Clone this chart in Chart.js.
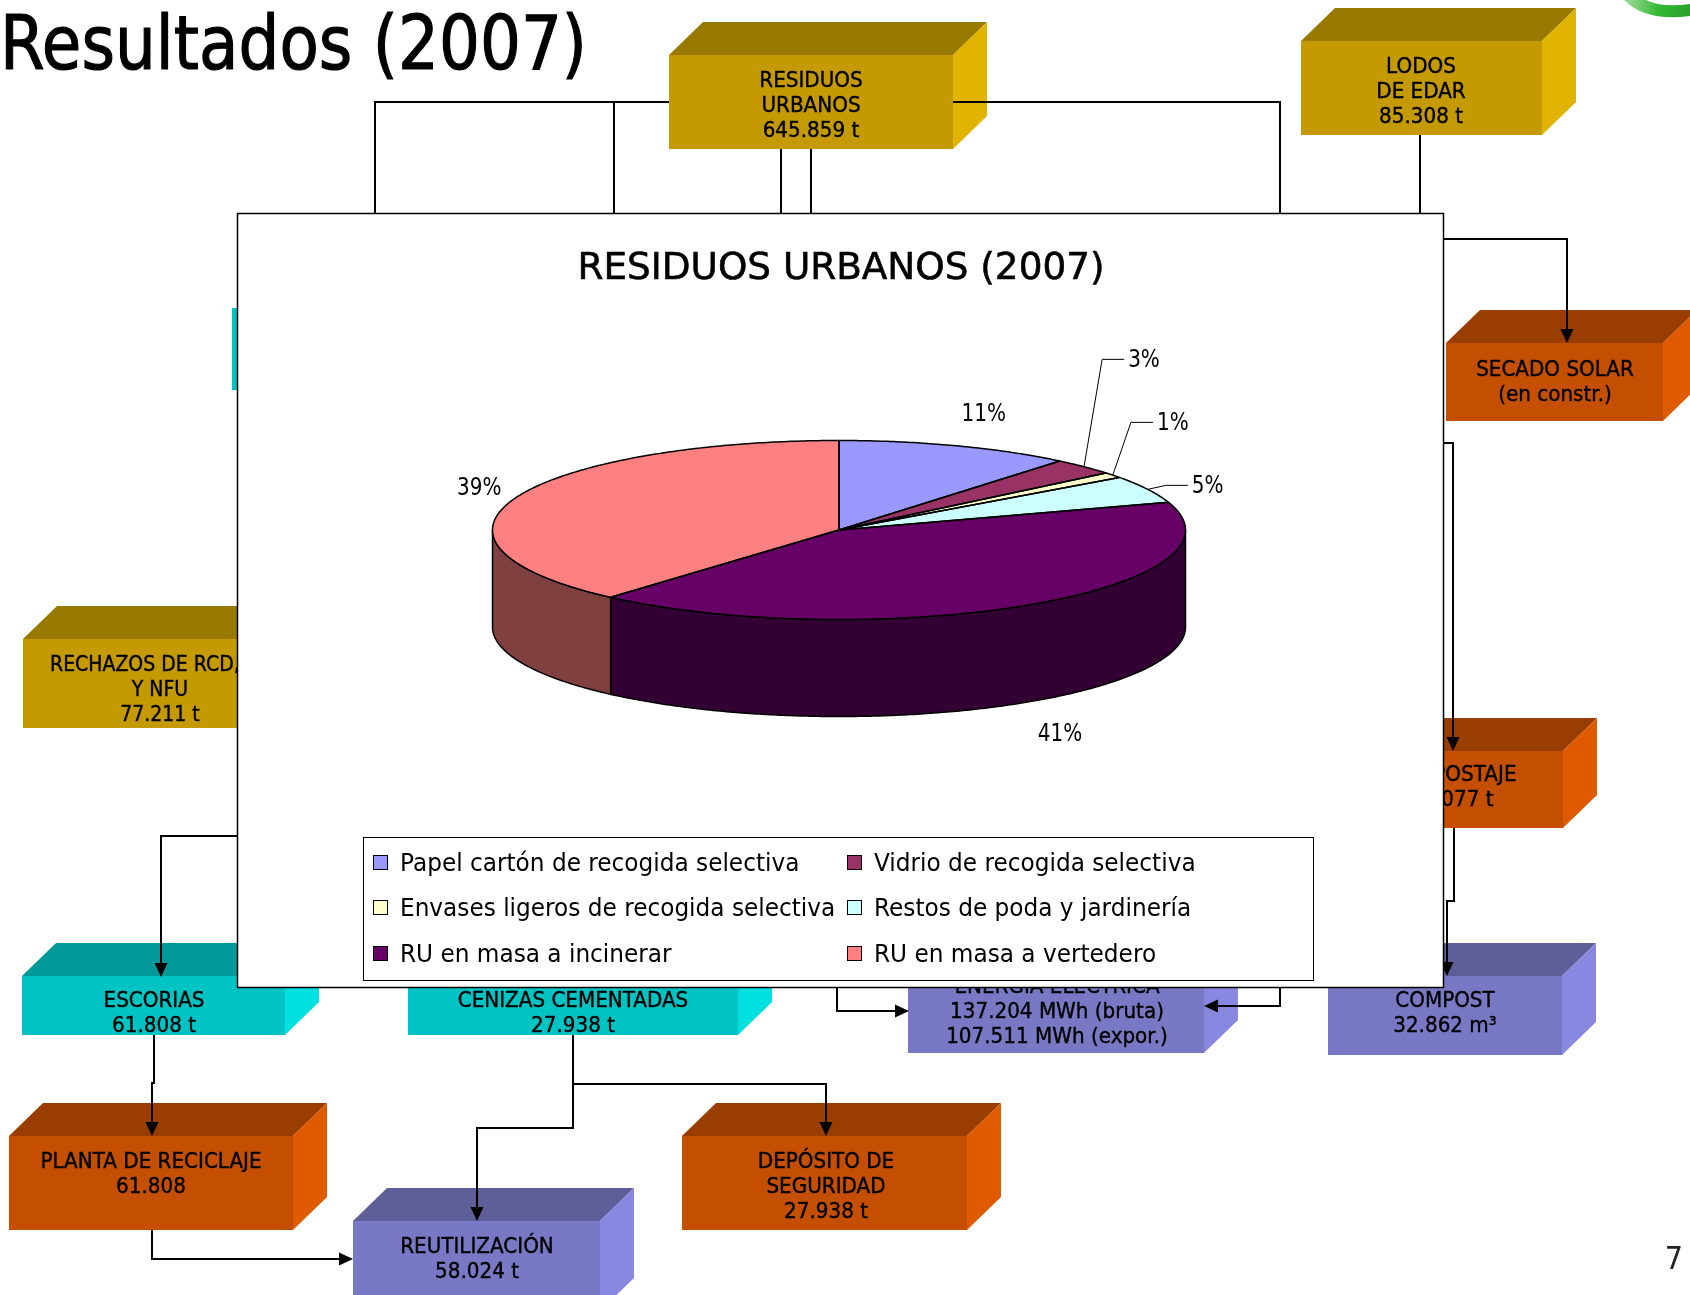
<!DOCTYPE html>
<html>
<head>
<meta charset="utf-8">
<title>Resultados (2007)</title>
<script src="https://cdn.jsdelivr.net/npm/chart.js@4.4.0/dist/chart.umd.min.js"></script>
<style>
    html, body { margin: 0; padding: 0; background: #fff; }
    #wrap { position: relative; width: 1690px; height: 1295px; overflow: hidden; }
</style>
</head>
<body>
<div id="wrap"><canvas id="slide" width="1690" height="1295"></canvas></div>
<script>
// --- chart data -------------------------------------------------------
const pageTitle = 'Resultados (2007)';
const chartTitle = 'RESIDUOS URBANOS (2007)';
const categories = [
    'Papel cartón de recogida selectiva',
    'Vidrio de recogida selectiva',
    'Envases ligeros de recogida selectiva',
    'Restos de poda y jardinería',
    'RU en masa a incinerar',
    'RU en masa a vertedero'
];
// shares in %, estimated from the slice edges (labels show them rounded)
const shares = [11.0, 3.0, 1.0, 5.0, 41.45, 38.55];
const sliceColors = ['#9999FF', '#993366', '#FFFFCC', '#CCFFFF', '#660066', '#FF8080'];
const sideColors = ['#4C4C80', '#4C1933', '#808066', '#668080', '#330033', '#804040'];

// --- look ---------------------------------------------------------------
const FONT = '"DejaVu Sans", Verdana, sans-serif';
const TILT = 89.5 / 346.5;  // ellipse ry / rx
const DEPTH = 97;           // pie thickness

const BOX_COLORS = {
    gold:     { front: '#C49A00', top: '#997A00', side: '#E0B400' },
    orange:   { front: '#C44F00', top: '#993D00', side: '#E05A00' },
    teal:     { front: '#00C4C4', top: '#009999', side: '#00E0E0' },
    lavender: { front: '#7878C4', top: '#5E5E99', side: '#8888E0' }
};

// flow diagram behind the chart (decoration only)
const boxes = [
    { color: 'gold', x: 669, y: 55, w: 284, h: 94, cx: 811, ty: 80, lines: ['RESIDUOS', 'URBANOS', '645.859 t'] },
    { color: 'gold', x: 1301, y: 41, w: 241, h: 94, cx: 1421, ty: 66, lines: ['LODOS', 'DE EDAR', '85.308 t'] },
    { color: 'orange', x: 1446, y: 343, w: 217, h: 78, cx: 1555, ty: 369, lines: ['SECADO SOLAR', '(en constr.)'] },
    { color: 'orange', x: 1328, y: 751, w: 235, h: 77, cx: 1451.5, ty: 774, lines: ['COMPOSTAJE', '71.077 t'] },
    { color: 'lavender', x: 1328, y: 976, w: 234, h: 79, cx: 1445, ty: 1000, lines: ['COMPOST', '32.862 m³'] },
    { color: 'lavender', x: 908, y: 969, w: 296, h: 84, cx: 1057, ty: 986, lines: ['ENERGÍA ELÉCTRICA', '137.204 MWh (bruta)', '107.511 MWh (expor.)'] },
    { color: 'teal', x: 408, y: 976, w: 330, h: 59, cx: 573, ty: 1000, lines: ['CENIZAS CEMENTADAS', '27.938 t'] },
    { color: 'teal', x: 22, y: 976, w: 263, h: 59, cx: 154, ty: 1000, lines: ['ESCORIAS', '61.808 t'] },
    { color: 'gold', x: 23, y: 639, w: 276, h: 89, cx: 160, ty: 664, sx: 0.9, lines: ['RECHAZOS DE RCD, VFU', 'Y NFU', '77.211 t'], firstLeft: 50 },
    { color: 'teal', x: 232, y: 308, w: 260, h: 82, flat: true, lines: [] },
    { color: 'orange', x: 9, y: 1136, w: 284, h: 94, cx: 151, ty: 1161, lines: ['PLANTA DE RECICLAJE', '61.808'] },
    { color: 'orange', x: 682, y: 1136, w: 285, h: 94, cx: 826, ty: 1161, lines: ['DEPÓSITO DE', 'SEGURIDAD', '27.938 t'] },
    { color: 'lavender', x: 353, y: 1221, w: 247, h: 90, cx: 477, ty: 1246, lines: ['REUTILIZACIÓN', '58.024 t'] }
];

const links = [
    { pts: [[375, 213], [375, 102], [669, 102]] },
    { pts: [[614, 102], [614, 213]] },
    { pts: [[781, 149], [781, 213]] },
    { pts: [[811, 149], [811, 213]] },
    { pts: [[953, 102], [1280, 102], [1280, 213]] },
    { pts: [[1420, 135], [1420, 213]] },
    { pts: [[1443, 239], [1567, 239], [1567, 343]], arrow: true },
    { pts: [[1443, 443], [1453, 443], [1453, 751]], arrow: true },
    { pts: [[1454, 828], [1454, 901], [1447, 901], [1447, 976]], arrow: true },
    { pts: [[237, 836], [161, 836], [161, 977]], arrow: true },
    { pts: [[154, 1035], [154, 1083], [152, 1083], [152, 1136]], arrow: true },
    { pts: [[152, 1230], [152, 1259], [353, 1259]], arrow: true },
    { pts: [[573, 1035], [573, 1128], [477, 1128], [477, 1221]], arrow: true },
    { pts: [[573, 1084], [826, 1084], [826, 1136]], arrow: true },
    { pts: [[837, 987], [837, 1011], [909, 1011]], arrow: true },
    { pts: [[1280, 987], [1280, 1006], [1204, 1006]], arrow: true }
];

const panel = { x: 237, y: 213, w: 1206, h: 774 };
const legendBox = { x: 363, y: 837, w: 950, h: 143, rows: [862, 907, 953], swatchX: [373, 847], textX: [400, 874] };

// --- helpers ------------------------------------------------------------
// text is centred on the cap height; sx squeezes it to the narrower slide font
function text(ctx, str, x, y, size, opts = {}) {
    const align = opts.align || 'center';
    ctx.save();
    ctx.font = size + 'px ' + FONT;
    ctx.textBaseline = 'middle';
    ctx.textAlign = 'left';
    const w = ctx.measureText(str).width;
    const sx = opts.fit ? opts.fit / w : (opts.sx || 0.84);
    const dw = w * sx;
    const left = align === 'center' ? x - dw / 2 : (align === 'right' ? x - dw : x);
    ctx.translate(left, y + size * 0.08);
    ctx.scale(sx, 1);
    ctx.fillStyle = opts.color || '#000';
    ctx.fillText(str, 0, 0);
    if (opts.heavy) {
        ctx.lineWidth = opts.heavy;
        ctx.strokeStyle = opts.color || '#000';
        ctx.strokeText(str, 0, 0);
    }
    ctx.restore();
    return dw;
}

function poly(ctx, pts, fill) {
    ctx.beginPath();
    pts.forEach((p, i) => i ? ctx.lineTo(p[0], p[1]) : ctx.moveTo(p[0], p[1]));
    ctx.closePath();
    ctx.fillStyle = fill;
    ctx.fill();
}

function drawBox(ctx, b) {
    const c = BOX_COLORS[b.color];
    const dx = 34, dy = 33;
    const { x, y, w, h } = b;
    if (!b.flat) {
        poly(ctx, [[x, y], [x + dx, y - dy], [x + w + dx, y - dy], [x + w, y]], c.top);
        poly(ctx, [[x + w, y], [x + w + dx, y - dy], [x + w + dx, y + h - dy], [x + w, y + h]], c.side);
    }
    ctx.fillStyle = c.front;
    ctx.fillRect(x, y, w, h);
    b.lines.forEach((t, i) => {
        const opts = { sx: b.sx || 0.95, heavy: 0.4 };
        if (i === 0 && b.firstLeft) {
            text(ctx, t, b.firstLeft, b.ty, 21, Object.assign(opts, { align: 'left' }));
        } else {
            text(ctx, t, b.cx, b.ty + i * 25, 21, opts);
        }
    });
}

function drawLink(ctx, link) {
    const pts = link.pts.map(p => p.slice());
    const n = pts.length;
    const end = pts[n - 1], prev = pts[n - 2];
    const len = Math.hypot(end[0] - prev[0], end[1] - prev[1]);
    const ux = (end[0] - prev[0]) / len, uy = (end[1] - prev[1]) / len;
    const head = 14;
    if (link.arrow) {
        pts[n - 1] = [end[0] - ux * (head - 2), end[1] - uy * (head - 2)];
    }
    ctx.beginPath();
    pts.forEach((p, i) => i ? ctx.lineTo(p[0], p[1]) : ctx.moveTo(p[0], p[1]));
    ctx.lineWidth = 2;
    ctx.strokeStyle = '#000';
    ctx.stroke();
    if (link.arrow) {
        const bx = end[0] - ux * head, by = end[1] - uy * head;
        poly(ctx, [end, [bx - uy * 6.5, by + ux * 6.5], [bx + uy * 6.5, by - ux * 6.5]], '#000');
    }
}

function drawBackdrop(ctx) {
    ctx.fillStyle = '#fff';
    ctx.fillRect(0, 0, 1690, 1295);

    boxes.forEach(b => drawBox(ctx, b));
    ctx.lineCap = 'butt';
    ctx.lineJoin = 'miter';
    links.forEach(l => drawLink(ctx, l));

    // green logo corner
    const g = ctx.createLinearGradient(1630, 0, 1690, 14);
    g.addColorStop(0, '#8FD88F');
    g.addColorStop(0.5, '#33B833');
    g.addColorStop(1, '#2AA02A');
    ctx.beginPath();
    ctx.moveTo(1624, 0);
    ctx.quadraticCurveTo(1646, 22, 1690, 16);
    ctx.lineTo(1690, 4);
    ctx.quadraticCurveTo(1662, 8, 1646, 0);
    ctx.closePath();
    ctx.fillStyle = g;
    ctx.fill();

    text(ctx, pageTitle, 0, 44, 75, { align: 'left', fit: 587, heavy: 1.2 });
    text(ctx, '7', 1674, 1258, 32, { color: '#222', sx: 0.9 });
}

function drawPanel(ctx) {
    ctx.fillStyle = '#fff';
    ctx.fillRect(panel.x, panel.y, panel.w, panel.h);
    ctx.lineWidth = 1.5;
    ctx.strokeStyle = '#000';
    ctx.strokeRect(panel.x + 0.5, panel.y + 0.5, panel.w, panel.h);

    text(ctx, chartTitle, 841, 266, 38, { fit: 527, heavy: 0.6 });

    const L = legendBox;
    ctx.lineWidth = 1;
    ctx.strokeStyle = '#000';
    ctx.strokeRect(L.x + 0.5, L.y + 0.5, L.w, L.h);
    categories.forEach((name, i) => {
        const col = i % 2, row = Math.floor(i / 2);
        const y = L.rows[row];
        ctx.fillStyle = sliceColors[i];
        ctx.fillRect(L.swatchX[col], y - 7, 15, 15);
        ctx.lineWidth = 1;
        ctx.strokeStyle = '#000';
        ctx.strokeRect(L.swatchX[col] + 0.5, y - 6.5, 14, 14);
        text(ctx, name, L.textX[col], y, 25.5, { align: 'left', sx: 0.91 });
    });
}

function ellipsePts(cx, cy, rx, ry, s, e) {
    const steps = Math.max(2, Math.ceil(Math.abs(e - s) / 0.01));
    const pts = [];
    for (let k = 0; k <= steps; k++) {
        const t = s + (e - s) * k / steps;
        pts.push([cx + rx * Math.cos(t), cy + ry * Math.sin(t)]);
    }
    return pts;
}

function drawSides(ctx, arcs) {
    arcs.forEach((a, i) => {
        const s = Math.max(a.startAngle, 0), e = Math.min(a.endAngle, Math.PI);
        if (e <= s) return;
        const rx = a.outerRadius, ry = rx * TILT;
        const top = ellipsePts(a.x, a.y, rx, ry, s, e);
        const bottom = ellipsePts(a.x, a.y + DEPTH, rx, ry, e, s);
        const pts = top.concat(bottom);
        ctx.beginPath();
        pts.forEach((p, k) => k ? ctx.lineTo(p[0], p[1]) : ctx.moveTo(p[0], p[1]));
        ctx.closePath();
        ctx.fillStyle = sideColors[i];
        ctx.fill();
        ctx.lineWidth = 1.5;
        ctx.strokeStyle = '#000';
        ctx.stroke();
    });
}

function drawOutlines(ctx, arcs) {
    arcs.forEach(a => {
        const rx = a.outerRadius, ry = rx * TILT;
        const pts = ellipsePts(a.x, a.y, rx, ry, a.startAngle, a.endAngle);
        ctx.beginPath();
        ctx.moveTo(a.x, a.y);
        pts.forEach(p => ctx.lineTo(p[0], p[1]));
        ctx.closePath();
        ctx.lineWidth = 1.5;
        ctx.lineJoin = 'round';
        ctx.strokeStyle = '#000';
        ctx.stroke();
    });
}

function drawLabels(ctx, arcs) {
    const size = 25, sx = 0.8;
    const total = shares.reduce((s, v) => s + v, 0);
    ctx.font = size + 'px ' + FONT;
    const anchors = arcs.map(a => {
        const m = (a.startAngle + a.endAngle) / 2;
        const rx = a.outerRadius, ry = rx * TILT;
        const c = Math.cos(m), s = Math.sin(m);
        return { c, s, small: (a.endAngle - a.startAngle) < 0.35,
                 x: a.x + rx * c, y: a.y + ry * s + (s > 0 ? DEPTH : 0) };
    });
    // small slices get leader lines and are stacked upward so they do not collide
    let prevY = Infinity;
    for (let i = arcs.length - 1; i >= 0; i--) {
        const an = anchors[i];
        const label = Math.round(shares[i] / total * 100) + '%';
        const w = ctx.measureText(label).width * sx;
        if (an.small) {
            const ly = Math.min(an.y - 4, prevY - 63);
            prevY = ly;
            const lx = an.x + 60;
            const left = lx - w / 2;
            ctx.beginPath();
            ctx.moveTo(an.x, an.y);
            ctx.lineTo(left - 26, ly);
            ctx.lineTo(left - 4, ly);
            ctx.lineWidth = 1;
            ctx.strokeStyle = '#000';
            ctx.stroke();
            text(ctx, label, lx, ly - 1, size, { sx });
        } else {
            const lx = an.x + an.c * (22 + w / 2) + 6 + Math.max(0, -an.s) * Math.max(0, an.c) * 20;
            const ly = an.y + an.s * 36 + 1;
            text(ctx, label, lx, ly, size, { sx });
        }
    }
}

// --- chart --------------------------------------------------------------
const slidePlugin = {
    id: 'slide',
    beforeDraw(chart) {
        drawBackdrop(chart.ctx);
        drawPanel(chart.ctx);
    },
    beforeDatasetsDraw(chart) {
        const ctx = chart.ctx;
        const arcs = chart.getDatasetMeta(0).data;
        drawSides(ctx, arcs);
        const cy = arcs[0].y;
        ctx.save();
        ctx.translate(0, cy);
        ctx.scale(1, TILT);
        ctx.translate(0, -cy);
    },
    afterDatasetsDraw(chart) {
        const ctx = chart.ctx;
        ctx.restore();
        const arcs = chart.getDatasetMeta(0).data;
        drawOutlines(ctx, arcs);
        drawLabels(ctx, arcs);
    }
};

new Chart(document.getElementById('slide').getContext('2d'), {
    type: 'pie',
    data: {
        labels: categories,
        datasets: [{
            data: shares,
            backgroundColor: sliceColors,
            borderWidth: 0,
            clip: false
        }]
    },
    options: {
        responsive: false,
        devicePixelRatio: 1,
        animation: false,
        events: [],
        layout: {
            padding: { left: 492.5, right: 504.5, top: 183.5, bottom: 418.5 }
        },
        plugins: {
            legend: { display: false },
            title: { display: false },
            tooltip: { enabled: false }
        }
    },
    plugins: [slidePlugin]
});
</script>
</body>
</html>
